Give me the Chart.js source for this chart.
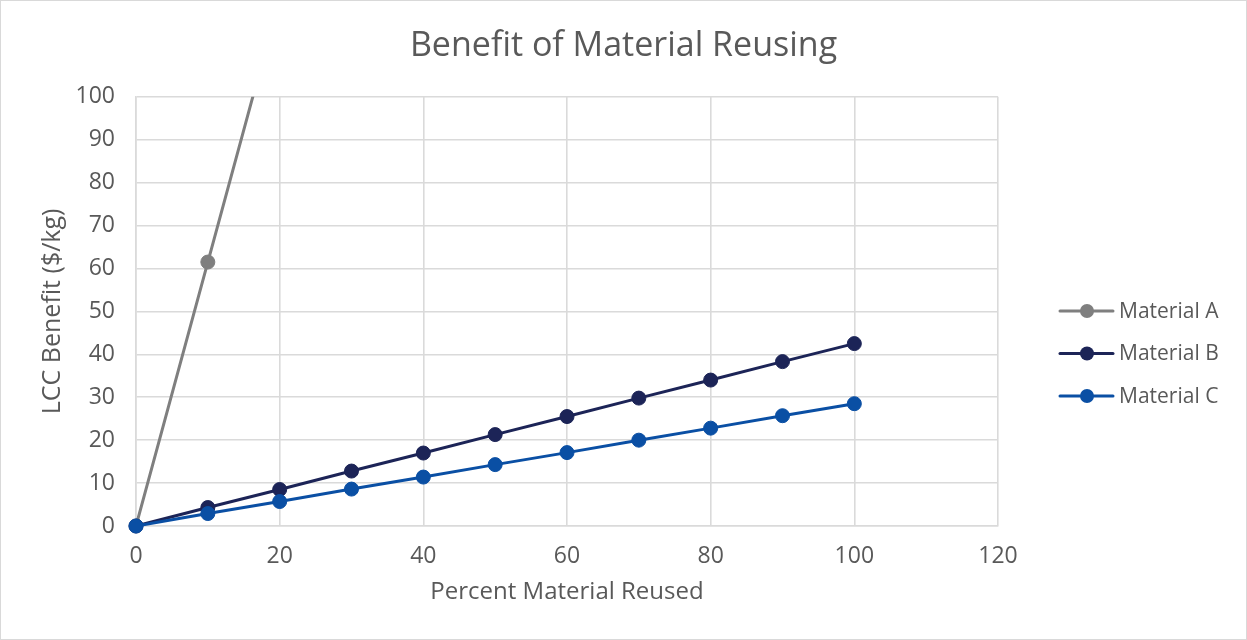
<!DOCTYPE html>
<html>
<head>
<meta charset="utf-8">
<title>Benefit of Material Reusing</title>
<script src="https://cdn.jsdelivr.net/npm/chart.js@4.4.1/dist/chart.umd.min.js"></script>
<style>
  html, body { margin: 0; padding: 0; background: #ffffff; }
  #wrap { position: relative; width: 1247px; height: 640px; }
</style>
</head>
<body>
<div id="wrap"><canvas id="chart"></canvas></div>
<script>
// Percent of material reused (x) and life-cycle cost benefit in $/kg (y)
const percentReused = [0, 10, 20, 30, 40, 50, 60, 70, 80, 90, 100];
const materialA = [0, 61.5, 123, 184.5, 246, 307.5, 369, 430.5, 492, 553.5, 615];
const materialB = [0, 4.3, 8.5, 12.8, 17.0, 21.3, 25.5, 29.8, 34.0, 38.3, 42.5];
const materialC = [0, 2.9, 5.7, 8.6, 11.4, 14.3, 17.1, 20.0, 22.8, 25.7, 28.5];

const seriesNames = ['Material A', 'Material B', 'Material C'];
const seriesColors = ['#7f7f7f', '#1c2457', '#0a4fa4'];
const seriesValues = [materialA, materialB, materialC];

const FONT = '"Open Sans", "Noto Sans", sans-serif';
const TEXT = '#595959';
const GRID = '#dadada';

const toPoints = vals => percentReused.map((x, i) => ({ x: x, y: vals[i] }));

// White card with a thin grey frame
const framePlugin = {
  id: 'frame',
  beforeDraw(chart) {
    const c = chart.ctx;
    c.save();
    c.fillStyle = '#ffffff';
    c.fillRect(0, 0, chart.width, chart.height);
    c.strokeStyle = '#d9d9d9';
    c.lineWidth = 1;
    c.strokeRect(0.5, 0.5, chart.width - 1, chart.height - 1);
    c.restore();
  }
};

// Legend on the right: line segment with a marker, then the series name
const lineLegendPlugin = {
  id: 'lineLegend',
  afterDraw(chart) {
    const c = chart.ctx;
    const x0 = 1060, x1 = 1113, rowTop = 311, rowGap = 42.5;
    c.save();
    chart.data.datasets.forEach((ds, i) => {
      const y = rowTop + i * rowGap;
      c.strokeStyle = ds.borderColor;
      c.lineWidth = 3;
      c.lineCap = 'round';
      c.beginPath();
      c.moveTo(x0, y);
      c.lineTo(x1, y);
      c.stroke();
      c.fillStyle = ds.borderColor;
      c.beginPath();
      c.arc((x0 + x1) / 2 + 0.5, y, 7, 0, Math.PI * 2);
      c.fill();
      c.fillStyle = TEXT;
      c.font = '21px ' + FONT;
      c.textBaseline = 'middle';
      c.textAlign = 'left';
      c.fillText(ds.label, 1119, y + 1);
    });
    c.restore();
  }
};

// Later series are stacked on top, as in the spreadsheet original
const datasets = seriesNames.map((name, i) => ({
  label: name,
  data: toPoints(seriesValues[i]),
  order: seriesNames.length - i,
  borderColor: seriesColors[i],
  backgroundColor: seriesColors[i],
  pointBackgroundColor: seriesColors[i],
  pointBorderColor: seriesColors[i],
  borderWidth: 3,
  pointRadius: 7,
  pointBorderWidth: 1,
  pointHoverRadius: 7,
  tension: 0,
  // the steep series is cut off at the top of the plot; the others never leave it
  clip: i === 0 ? 0 : false
}));

new Chart(document.getElementById('chart'), {
  type: 'line',
  data: { datasets: datasets },
  plugins: [framePlugin, lineLegendPlugin],
  options: {
    responsive: true,
    maintainAspectRatio: false,
    animation: false,
    layout: { padding: 0 },
    plugins: {
      legend: { display: false },
      tooltip: { enabled: false },
      title: {
        display: true,
        text: 'Benefit of Material Reusing',
        color: TEXT,
        font: { family: FONT, size: 34, weight: 'normal', lineHeight: 1.2 },
        padding: { top: 26, bottom: 30 }
      }
    },
    scales: {
      x: {
        type: 'linear',
        min: 0,
        max: 120,
        ticks: { stepSize: 20, color: TEXT, padding: 17, font: { family: FONT, size: 23 } },
        grid: { color: GRID, lineWidth: 1.6, drawTicks: false },
        border: { color: GRID, width: 1.6 },
        title: {
          display: true,
          text: 'Percent Material Reused',
          color: TEXT,
          font: { family: FONT, size: 24, lineHeight: 1.2 },
          padding: { top: 0, bottom: 33 }
        },
        afterFit(scale) { scale.height = 114; }
      },
      y: {
        type: 'linear',
        min: 0,
        max: 100,
        ticks: { stepSize: 10, color: TEXT, padding: 21, font: { family: FONT, size: 23 } },
        grid: { color: GRID, lineWidth: 1.6, drawTicks: false },
        border: { color: GRID, width: 1.6 },
        title: {
          display: true,
          text: 'LCC Benefit ($/kg)',
          color: TEXT,
          font: { family: FONT, size: 25, lineHeight: 1.2 },
          padding: { top: 38, bottom: 0 }
        },
        afterFit(scale) { scale.width = 136; }
      },
      // empty band on the right that holds the legend
      legendBand: {
        type: 'linear',
        position: 'right',
        display: true,
        grid: { display: false, drawTicks: false },
        border: { display: false },
        ticks: { display: false },
        afterFit(scale) { scale.width = 249; }
      }
    }
  }
});
</script>
</body>
</html>
